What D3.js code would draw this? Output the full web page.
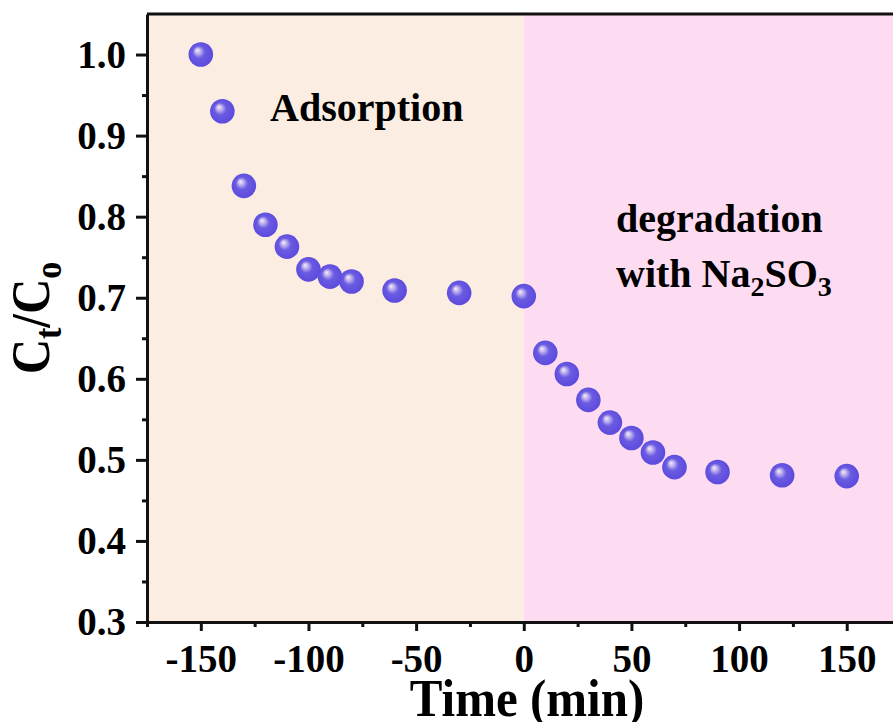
<!DOCTYPE html>
<html>
<head>
<meta charset="utf-8">
<script src="https://cdn.jsdelivr.net/npm/d3@7"></script>
<style>
  body { margin: 0; background: #fff; }
  svg { display: block; font-family: "Liberation Serif", "Times New Roman", serif; font-weight: bold; }
</style>
</head>
<body>
<div id="chart"></div>
<script>
// time (min) and Ct/C0
const times = [-150, -140, -130, -120, -110, -100, -90, -80, -60, -30, 0,
    10, 20, 30, 40, 50, 60, 70, 90, 120, 150];
const ratios = [1.000, 0.930, 0.838, 0.790, 0.763, 0.735, 0.726, 0.720, 0.709, 0.706, 0.702,
    0.632, 0.606, 0.574, 0.546, 0.527, 0.509, 0.491, 0.485, 0.481, 0.480];
const xTicks = [-150, -100, -50, 0, 50, 100, 150];
const yTicks = [0.3, 0.4, 0.5, 0.6, 0.7, 0.8, 0.9, 1.0];
const regions = [
    { from: -175, to: 0, color: '#fcede3' },
    { from: 0, to: 175, color: '#fddcf1' }
];

const width = 893, height = 722;
const margin = { left: 147, top: 14, bottom: 100 };
const plotRight = 147 + 350 * 2.153; // right edge runs off the page

const svg = d3.select('#chart').append('svg')
    .attr('width', width)
    .attr('height', height);

const x = d3.scaleLinear().domain([-175, 175]).range([margin.left, plotRight]);
const y = d3.scaleLinear().domain([0.3, 1.05]).range([height - margin.bottom, margin.top]);

const defs = svg.append('defs');
const grad = defs.append('radialGradient')
    .attr('id', 'ball')
    .attr('cx', '0.5').attr('cy', '0.5').attr('r', '0.55')
    .attr('fx', '0.35').attr('fy', '0.32');
grad.append('stop').attr('offset', '0%').attr('stop-color', '#f4eef8');
grad.append('stop').attr('offset', '18%').attr('stop-color', '#c6b8ee');
grad.append('stop').attr('offset', '45%').attr('stop-color', '#6a5be2');
grad.append('stop').attr('offset', '100%').attr('stop-color', '#5a48dc');

svg.append('g')
    .selectAll('rect')
    .data(regions)
    .join('rect')
    .attr('x', d => x(d.from))
    .attr('y', y(1.05))
    .attr('width', d => x(d.to) - x(d.from))
    .attr('height', y(0.3) - y(1.05))
    .attr('fill', d => d.color);

// frame top
svg.append('line')
    .attr('x1', x(-175)).attr('x2', x(175))
    .attr('y1', y(1.05)).attr('y2', y(1.05))
    .attr('stroke', '#111').attr('stroke-width', 3);

svg.append('g')
    .attr('transform', `translate(0,${y(0.3)})`)
    .call(d3.axisBottom(x).tickValues(xTicks).tickSize(9).tickSizeOuter(0).tickPadding(13)
        .tickFormat(d => String(d)));
svg.append('g')
    .attr('transform', `translate(0,${y(0.3)})`)
    .call(d3.axisBottom(x).tickValues(d3.range(-175, 176, 50)).tickSize(5).tickFormat(''))
    .call(g => g.select('.domain').remove());

svg.append('g')
    .attr('transform', `translate(${x(-175)},0)`)
    .call(d3.axisLeft(y).tickValues(yTicks).tickSize(11).tickSizeOuter(0).tickPadding(10)
        .tickFormat(d3.format('.1f')));
svg.append('g')
    .attr('transform', `translate(${x(-175)},0)`)
    .call(d3.axisLeft(y).tickValues(d3.range(0.35, 1.05, 0.1)).tickSize(5).tickFormat(''))
    .call(g => g.select('.domain').remove());

svg.selectAll('.domain').attr('stroke', '#111').attr('stroke-width', 3);
svg.selectAll('.tick line').attr('stroke', '#111').attr('stroke-width', 3);
svg.selectAll('.tick text').attr('fill', '#000')
    .style('font-size', '39px').style('font-family', '"Liberation Serif", serif').style('font-weight', 'bold');

svg.append('g')
    .selectAll('circle')
    .data(times.map((t, i) => [t, ratios[i]]))
    .join('circle')
    .attr('cx', d => x(d[0]))
    .attr('cy', d => y(d[1]))
    .attr('r', 12.3)
    .attr('fill', 'url(#ball)');

svg.append('text')
    .attr('x', 270).attr('y', 121)
    .style('font-size', '40px')
    .text('Adsorption');

svg.append('text')
    .attr('x', 616).attr('y', 232)
    .style('font-size', '40px')
    .text('degradation');
const w = svg.append('text').attr('x', 616).attr('y', 287).style('font-size', '40px');
w.append('tspan').text('with Na');
w.append('tspan').attr('dy', 9).style('font-size', '28px').text('2');
w.append('tspan').attr('dy', -9).text('SO');
w.append('tspan').attr('dy', 9).style('font-size', '28px').text('3');

// Origin draws the axis titles a bit taller than wide
const yl = svg.append('text')
    .attr('transform', 'translate(49,318) rotate(-90) scale(1,1.1)')
    .attr('text-anchor', 'middle')
    .style('font-size', '49px');
yl.append('tspan').text('C');
yl.append('tspan').attr('dy', 11).style('font-size', '34px').text('t');
yl.append('tspan').attr('dy', -11).text('/C');
yl.append('tspan').attr('dy', 11).style('font-size', '34px').text('o');

svg.append('text')
    .attr('transform', 'translate(527,716) scale(1,1.06)')
    .attr('text-anchor', 'middle')
    .style('font-size', '49px')
    .text('Time (min)');
</script>
</body>
</html>
